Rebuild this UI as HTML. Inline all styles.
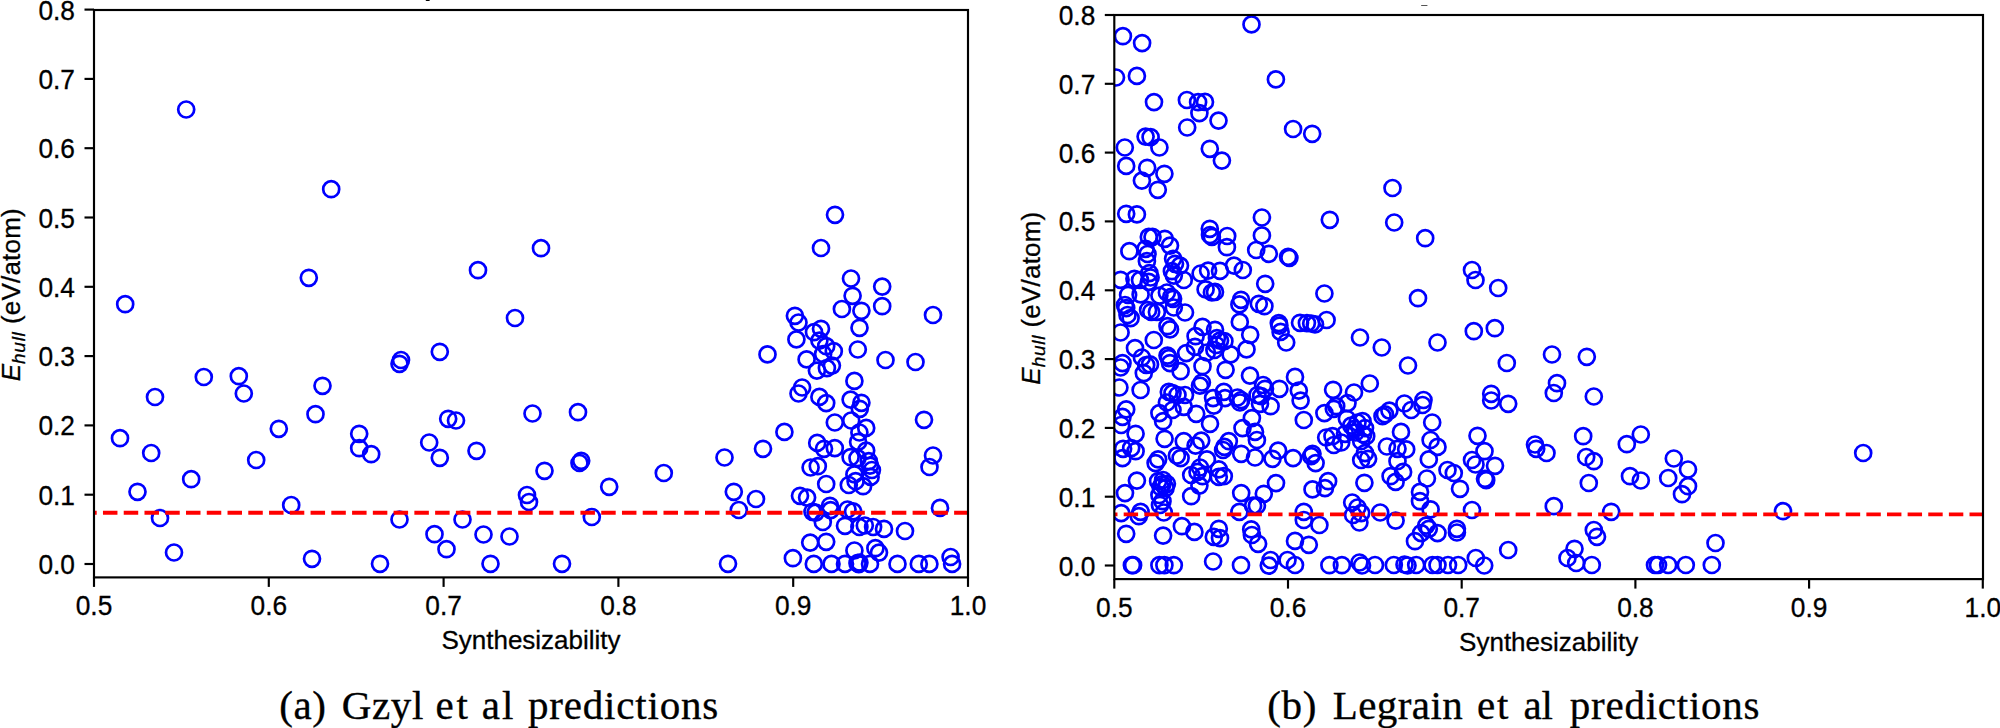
<!DOCTYPE html>
<html><head><meta charset="utf-8"><title>Ehull vs Synthesizability</title>
<style>
html,body{margin:0;padding:0;background:#fff;}
body{width:2000px;height:728px;overflow:hidden;position:relative;}
svg{position:absolute;left:0;top:0;}
.tk{font-family:"Liberation Sans",sans-serif;font-size:26.3px;fill:#000;stroke:#000;stroke-width:0.3px;}
.lb{font-family:"Liberation Sans",sans-serif;font-size:26px;fill:#000;stroke:#000;stroke-width:0.3px;}
.cap{font-family:"Liberation Serif",serif;font-size:41px;fill:#000;stroke:#000;stroke-width:0.35px;}
</style></head><body>
<svg width="2000" height="728" viewBox="0 0 2000 728">
<rect width="2000" height="728" fill="#fff"/>
<rect x="425.6" y="-1" width="4.3" height="1.9" rx="1" fill="#000"/>
<rect x="1421" y="5.1" width="6.6" height="0.8" rx="0.4" fill="#555"/>
<clipPath id="cl"><rect x="94.0" y="10.0" width="874.0" height="567.4"/></clipPath>
<g clip-path="url(#cl)" fill="none" stroke="#0000ff" stroke-width="2.7">
<circle cx="186.2" cy="109.5" r="8"/>
<circle cx="331.2" cy="189.2" r="8"/>
<circle cx="308.8" cy="277.8" r="8"/>
<circle cx="125.2" cy="304.2" r="8"/>
<circle cx="478.0" cy="270.2" r="8"/>
<circle cx="541.0" cy="248.2" r="8"/>
<circle cx="515.0" cy="318.0" r="8"/>
<circle cx="933.0" cy="315.0" r="8"/>
<circle cx="439.8" cy="351.8" r="8"/>
<circle cx="401.0" cy="360.0" r="8"/>
<circle cx="399.5" cy="363.8" r="8"/>
<circle cx="203.8" cy="377.0" r="8"/>
<circle cx="238.8" cy="376.2" r="8"/>
<circle cx="243.8" cy="393.5" r="8"/>
<circle cx="322.5" cy="385.8" r="8"/>
<circle cx="155.0" cy="397.0" r="8"/>
<circle cx="315.5" cy="414.2" r="8"/>
<circle cx="278.8" cy="428.8" r="8"/>
<circle cx="120.0" cy="438.2" r="8"/>
<circle cx="151.2" cy="453.0" r="8"/>
<circle cx="256.2" cy="460.0" r="8"/>
<circle cx="359.2" cy="433.8" r="8"/>
<circle cx="359.2" cy="448.2" r="8"/>
<circle cx="371.2" cy="454.2" r="8"/>
<circle cx="429.2" cy="442.5" r="8"/>
<circle cx="439.8" cy="457.8" r="8"/>
<circle cx="448.2" cy="418.8" r="8"/>
<circle cx="456.0" cy="420.5" r="8"/>
<circle cx="476.5" cy="450.8" r="8"/>
<circle cx="532.5" cy="413.5" r="8"/>
<circle cx="578.0" cy="412.2" r="8"/>
<circle cx="544.5" cy="470.8" r="8"/>
<circle cx="579.5" cy="463.0" r="8"/>
<circle cx="581.2" cy="460.8" r="8"/>
<circle cx="191.2" cy="479.2" r="8"/>
<circle cx="137.5" cy="491.8" r="8"/>
<circle cx="291.2" cy="505.0" r="8"/>
<circle cx="527.0" cy="495.0" r="8"/>
<circle cx="529.0" cy="502.0" r="8"/>
<circle cx="609.2" cy="486.8" r="8"/>
<circle cx="663.8" cy="473.0" r="8"/>
<circle cx="724.5" cy="457.5" r="8"/>
<circle cx="733.8" cy="491.8" r="8"/>
<circle cx="756.0" cy="499.0" r="8"/>
<circle cx="738.8" cy="510.0" r="8"/>
<circle cx="885.5" cy="360.0" r="8"/>
<circle cx="915.5" cy="362.0" r="8"/>
<circle cx="924.0" cy="419.8" r="8"/>
<circle cx="933.0" cy="455.5" r="8"/>
<circle cx="929.5" cy="467.0" r="8"/>
<circle cx="160.0" cy="518.0" r="8"/>
<circle cx="174.0" cy="552.5" r="8"/>
<circle cx="312.0" cy="558.8" r="8"/>
<circle cx="380.0" cy="563.8" r="8"/>
<circle cx="399.5" cy="519.5" r="8"/>
<circle cx="434.5" cy="534.2" r="8"/>
<circle cx="446.5" cy="549.2" r="8"/>
<circle cx="462.5" cy="519.5" r="8"/>
<circle cx="483.5" cy="534.5" r="8"/>
<circle cx="490.5" cy="563.8" r="8"/>
<circle cx="509.5" cy="536.5" r="8"/>
<circle cx="562.0" cy="563.8" r="8"/>
<circle cx="591.8" cy="517.0" r="8"/>
<circle cx="728.0" cy="563.8" r="8"/>
<circle cx="835.0" cy="214.8" r="8"/>
<circle cx="821.0" cy="248.0" r="8"/>
<circle cx="851.0" cy="278.5" r="8"/>
<circle cx="882.2" cy="286.6" r="8"/>
<circle cx="852.6" cy="295.8" r="8"/>
<circle cx="882.2" cy="306.2" r="8"/>
<circle cx="841.9" cy="309.0" r="8"/>
<circle cx="861.4" cy="310.8" r="8"/>
<circle cx="794.9" cy="315.8" r="8"/>
<circle cx="798.5" cy="322.5" r="8"/>
<circle cx="859.5" cy="327.8" r="8"/>
<circle cx="821.0" cy="328.8" r="8"/>
<circle cx="814.0" cy="332.2" r="8"/>
<circle cx="796.4" cy="339.4" r="8"/>
<circle cx="819.4" cy="340.6" r="8"/>
<circle cx="826.2" cy="346.2" r="8"/>
<circle cx="857.8" cy="349.5" r="8"/>
<circle cx="833.8" cy="351.2" r="8"/>
<circle cx="823.1" cy="354.0" r="8"/>
<circle cx="767.5" cy="354.4" r="8"/>
<circle cx="806.6" cy="359.4" r="8"/>
<circle cx="831.9" cy="365.6" r="8"/>
<circle cx="826.9" cy="368.1" r="8"/>
<circle cx="816.9" cy="370.6" r="8"/>
<circle cx="854.4" cy="380.9" r="8"/>
<circle cx="802.1" cy="387.5" r="8"/>
<circle cx="798.5" cy="393.5" r="8"/>
<circle cx="819.4" cy="396.9" r="8"/>
<circle cx="826.2" cy="403.1" r="8"/>
<circle cx="850.6" cy="399.6" r="8"/>
<circle cx="861.4" cy="402.8" r="8"/>
<circle cx="859.8" cy="408.8" r="8"/>
<circle cx="851.2" cy="420.5" r="8"/>
<circle cx="834.8" cy="422.5" r="8"/>
<circle cx="866.2" cy="427.9" r="8"/>
<circle cx="784.4" cy="431.9" r="8"/>
<circle cx="859.4" cy="432.5" r="8"/>
<circle cx="858.1" cy="441.9" r="8"/>
<circle cx="817.2" cy="442.9" r="8"/>
<circle cx="824.0" cy="448.8" r="8"/>
<circle cx="834.8" cy="448.1" r="8"/>
<circle cx="866.2" cy="450.6" r="8"/>
<circle cx="763.0" cy="448.8" r="8"/>
<circle cx="850.6" cy="457.2" r="8"/>
<circle cx="857.5" cy="458.1" r="8"/>
<circle cx="868.8" cy="461.2" r="8"/>
<circle cx="870.0" cy="465.6" r="8"/>
<circle cx="871.9" cy="470.0" r="8"/>
<circle cx="810.6" cy="467.5" r="8"/>
<circle cx="817.8" cy="466.2" r="8"/>
<circle cx="854.4" cy="474.4" r="8"/>
<circle cx="870.6" cy="476.9" r="8"/>
<circle cx="855.6" cy="481.2" r="8"/>
<circle cx="826.2" cy="484.0" r="8"/>
<circle cx="848.8" cy="485.0" r="8"/>
<circle cx="863.1" cy="486.2" r="8"/>
<circle cx="800.0" cy="495.8" r="8"/>
<circle cx="807.1" cy="497.6" r="8"/>
<circle cx="830.0" cy="505.8" r="8"/>
<circle cx="830.6" cy="510.1" r="8"/>
<circle cx="940.0" cy="507.9" r="8"/>
<circle cx="847.5" cy="509.5" r="8"/>
<circle cx="853.1" cy="511.4" r="8"/>
<circle cx="812.5" cy="511.8" r="8"/>
<circle cx="815.6" cy="512.6" r="8"/>
<circle cx="822.8" cy="522.0" r="8"/>
<circle cx="845.0" cy="525.8" r="8"/>
<circle cx="859.4" cy="527.0" r="8"/>
<circle cx="864.8" cy="525.5" r="8"/>
<circle cx="873.1" cy="527.0" r="8"/>
<circle cx="884.0" cy="528.9" r="8"/>
<circle cx="905.0" cy="531.0" r="8"/>
<circle cx="810.2" cy="542.6" r="8"/>
<circle cx="826.2" cy="541.8" r="8"/>
<circle cx="854.4" cy="550.5" r="8"/>
<circle cx="875.4" cy="548.2" r="8"/>
<circle cx="879.0" cy="552.6" r="8"/>
<circle cx="792.9" cy="558.2" r="8"/>
<circle cx="950.6" cy="557.0" r="8"/>
<circle cx="952.1" cy="563.9" r="8"/>
<circle cx="813.8" cy="563.9" r="8"/>
<circle cx="831.5" cy="563.9" r="8"/>
<circle cx="845.0" cy="563.9" r="8"/>
<circle cx="857.5" cy="563.2" r="8"/>
<circle cx="859.4" cy="562.6" r="8"/>
<circle cx="858.8" cy="564.1" r="8"/>
<circle cx="870.0" cy="563.9" r="8"/>
<circle cx="897.5" cy="563.9" r="8"/>
<circle cx="918.8" cy="563.9" r="8"/>
<circle cx="929.4" cy="563.9" r="8"/>
</g>
<line x1="94.0" x2="968.0" y1="512.8" y2="512.8" stroke="#ff0000" stroke-width="3.92" stroke-dasharray="14.5 6.26" stroke-dashoffset="11.8" clip-path="url(#cl)"/>
<rect x="94.0" y="10.0" width="874.0" height="567.4" fill="none" stroke="#000" stroke-width="2.15"/>
<line x1="94.0" x2="94.0" y1="577.4" y2="586.9" stroke="#000" stroke-width="2.15"/>
<text transform="translate(94.0,615.3) scale(1,1.06)" text-anchor="middle" class="tk">0.5</text>
<line x1="268.8" x2="268.8" y1="577.4" y2="586.9" stroke="#000" stroke-width="2.15"/>
<text transform="translate(268.8,615.3) scale(1,1.06)" text-anchor="middle" class="tk">0.6</text>
<line x1="443.6" x2="443.6" y1="577.4" y2="586.9" stroke="#000" stroke-width="2.15"/>
<text transform="translate(443.6,615.3) scale(1,1.06)" text-anchor="middle" class="tk">0.7</text>
<line x1="618.4" x2="618.4" y1="577.4" y2="586.9" stroke="#000" stroke-width="2.15"/>
<text transform="translate(618.4,615.3) scale(1,1.06)" text-anchor="middle" class="tk">0.8</text>
<line x1="793.2" x2="793.2" y1="577.4" y2="586.9" stroke="#000" stroke-width="2.15"/>
<text transform="translate(793.2,615.3) scale(1,1.06)" text-anchor="middle" class="tk">0.9</text>
<line x1="968.0" x2="968.0" y1="577.4" y2="586.9" stroke="#000" stroke-width="2.15"/>
<text transform="translate(968.0,615.3) scale(1,1.06)" text-anchor="middle" class="tk">1.0</text>
<line x1="84.5" x2="94.0" y1="564.0" y2="564.0" stroke="#000" stroke-width="2.15"/>
<text transform="translate(75.0,574.0) scale(1,1.06)" text-anchor="end" class="tk">0.0</text>
<line x1="84.5" x2="94.0" y1="494.7" y2="494.7" stroke="#000" stroke-width="2.15"/>
<text transform="translate(75.0,504.7) scale(1,1.06)" text-anchor="end" class="tk">0.1</text>
<line x1="84.5" x2="94.0" y1="425.4" y2="425.4" stroke="#000" stroke-width="2.15"/>
<text transform="translate(75.0,435.4) scale(1,1.06)" text-anchor="end" class="tk">0.2</text>
<line x1="84.5" x2="94.0" y1="356.1" y2="356.1" stroke="#000" stroke-width="2.15"/>
<text transform="translate(75.0,366.1) scale(1,1.06)" text-anchor="end" class="tk">0.3</text>
<line x1="84.5" x2="94.0" y1="286.8" y2="286.8" stroke="#000" stroke-width="2.15"/>
<text transform="translate(75.0,296.8) scale(1,1.06)" text-anchor="end" class="tk">0.4</text>
<line x1="84.5" x2="94.0" y1="217.5" y2="217.5" stroke="#000" stroke-width="2.15"/>
<text transform="translate(75.0,227.5) scale(1,1.06)" text-anchor="end" class="tk">0.5</text>
<line x1="84.5" x2="94.0" y1="148.2" y2="148.2" stroke="#000" stroke-width="2.15"/>
<text transform="translate(75.0,158.2) scale(1,1.06)" text-anchor="end" class="tk">0.6</text>
<line x1="84.5" x2="94.0" y1="78.9" y2="78.9" stroke="#000" stroke-width="2.15"/>
<text transform="translate(75.0,88.9) scale(1,1.06)" text-anchor="end" class="tk">0.7</text>
<line x1="84.5" x2="94.0" y1="9.6" y2="9.6" stroke="#000" stroke-width="2.15"/>
<text transform="translate(75.0,19.6) scale(1,1.06)" text-anchor="end" class="tk">0.8</text>
<text x="531.0" y="649.4" text-anchor="middle" class="lb">Synthesizability</text>
<text transform="translate(20,294.7) rotate(-90)" text-anchor="middle" class="lb"><tspan font-style="italic">E</tspan><tspan font-style="italic" font-size="19" letter-spacing="0.7" dy="4.5">hull</tspan><tspan dy="-4.5" letter-spacing="0.2"> (eV/atom)</tspan></text>
<clipPath id="cr"><rect x="1114.3" y="15.0" width="868.7" height="564.1"/></clipPath>
<g clip-path="url(#cr)" fill="none" stroke="#0000ff" stroke-width="2.7">
<circle cx="1251.5" cy="24.4" r="8"/>
<circle cx="1122.9" cy="36.2" r="8"/>
<circle cx="1142.1" cy="43.1" r="8"/>
<circle cx="1116.0" cy="77.5" r="8"/>
<circle cx="1136.9" cy="75.9" r="8"/>
<circle cx="1275.9" cy="79.4" r="8"/>
<circle cx="1154.0" cy="102.1" r="8"/>
<circle cx="1186.9" cy="100.0" r="8"/>
<circle cx="1198.1" cy="102.2" r="8"/>
<circle cx="1205.0" cy="101.9" r="8"/>
<circle cx="1199.4" cy="113.1" r="8"/>
<circle cx="1218.5" cy="120.6" r="8"/>
<circle cx="1187.2" cy="127.5" r="8"/>
<circle cx="1293.1" cy="129.0" r="8"/>
<circle cx="1312.2" cy="133.8" r="8"/>
<circle cx="1145.6" cy="136.6" r="8"/>
<circle cx="1150.6" cy="137.2" r="8"/>
<circle cx="1124.8" cy="147.5" r="8"/>
<circle cx="1159.4" cy="147.5" r="8"/>
<circle cx="1209.8" cy="148.8" r="8"/>
<circle cx="1221.9" cy="160.6" r="8"/>
<circle cx="1126.2" cy="165.9" r="8"/>
<circle cx="1147.2" cy="167.8" r="8"/>
<circle cx="1164.4" cy="173.8" r="8"/>
<circle cx="1141.9" cy="180.6" r="8"/>
<circle cx="1157.8" cy="189.8" r="8"/>
<circle cx="1126.2" cy="213.8" r="8"/>
<circle cx="1136.9" cy="214.4" r="8"/>
<circle cx="1261.9" cy="217.5" r="8"/>
<circle cx="1329.8" cy="219.8" r="8"/>
<circle cx="1209.8" cy="228.8" r="8"/>
<circle cx="1210.0" cy="235.0" r="8"/>
<circle cx="1211.9" cy="236.9" r="8"/>
<circle cx="1227.2" cy="236.0" r="8"/>
<circle cx="1261.9" cy="235.4" r="8"/>
<circle cx="1148.8" cy="236.9" r="8"/>
<circle cx="1152.5" cy="236.9" r="8"/>
<circle cx="1164.8" cy="238.8" r="8"/>
<circle cx="1170.0" cy="245.6" r="8"/>
<circle cx="1226.9" cy="247.2" r="8"/>
<circle cx="1256.2" cy="250.0" r="8"/>
<circle cx="1268.8" cy="253.8" r="8"/>
<circle cx="1129.4" cy="251.2" r="8"/>
<circle cx="1145.6" cy="248.8" r="8"/>
<circle cx="1147.5" cy="254.0" r="8"/>
<circle cx="1288.1" cy="256.9" r="8"/>
<circle cx="1289.4" cy="257.8" r="8"/>
<circle cx="1234.0" cy="265.6" r="8"/>
<circle cx="1242.8" cy="270.0" r="8"/>
<circle cx="1220.0" cy="270.9" r="8"/>
<circle cx="1208.1" cy="270.6" r="8"/>
<circle cx="1200.6" cy="273.5" r="8"/>
<circle cx="1265.2" cy="283.8" r="8"/>
<circle cx="1205.6" cy="289.4" r="8"/>
<circle cx="1211.9" cy="292.5" r="8"/>
<circle cx="1215.0" cy="291.9" r="8"/>
<circle cx="1324.4" cy="293.5" r="8"/>
<circle cx="1241.0" cy="299.8" r="8"/>
<circle cx="1239.4" cy="304.4" r="8"/>
<circle cx="1258.8" cy="303.8" r="8"/>
<circle cx="1264.4" cy="306.2" r="8"/>
<circle cx="1185.0" cy="312.5" r="8"/>
<circle cx="1146.9" cy="261.2" r="8"/>
<circle cx="1173.1" cy="258.8" r="8"/>
<circle cx="1175.0" cy="263.8" r="8"/>
<circle cx="1180.0" cy="265.6" r="8"/>
<circle cx="1171.9" cy="271.2" r="8"/>
<circle cx="1173.8" cy="275.6" r="8"/>
<circle cx="1183.8" cy="280.0" r="8"/>
<circle cx="1149.4" cy="273.1" r="8"/>
<circle cx="1150.6" cy="277.5" r="8"/>
<circle cx="1148.8" cy="281.9" r="8"/>
<circle cx="1120.6" cy="279.8" r="8"/>
<circle cx="1134.4" cy="278.8" r="8"/>
<circle cx="1140.0" cy="280.0" r="8"/>
<circle cx="1128.1" cy="295.0" r="8"/>
<circle cx="1140.6" cy="294.4" r="8"/>
<circle cx="1159.4" cy="295.6" r="8"/>
<circle cx="1166.9" cy="292.5" r="8"/>
<circle cx="1171.2" cy="296.9" r="8"/>
<circle cx="1173.1" cy="298.8" r="8"/>
<circle cx="1125.0" cy="305.0" r="8"/>
<circle cx="1126.2" cy="308.1" r="8"/>
<circle cx="1148.1" cy="310.0" r="8"/>
<circle cx="1151.2" cy="311.9" r="8"/>
<circle cx="1156.9" cy="311.9" r="8"/>
<circle cx="1173.8" cy="307.5" r="8"/>
<circle cx="1127.5" cy="315.0" r="8"/>
<circle cx="1130.6" cy="318.1" r="8"/>
<circle cx="1239.8" cy="321.9" r="8"/>
<circle cx="1326.6" cy="320.0" r="8"/>
<circle cx="1278.8" cy="323.1" r="8"/>
<circle cx="1279.4" cy="325.6" r="8"/>
<circle cx="1280.6" cy="331.9" r="8"/>
<circle cx="1286.2" cy="342.5" r="8"/>
<circle cx="1300.0" cy="322.8" r="8"/>
<circle cx="1306.9" cy="323.1" r="8"/>
<circle cx="1311.2" cy="323.5" r="8"/>
<circle cx="1315.0" cy="324.4" r="8"/>
<circle cx="1360.0" cy="337.5" r="8"/>
<circle cx="1250.2" cy="334.8" r="8"/>
<circle cx="1246.5" cy="349.4" r="8"/>
<circle cx="1202.5" cy="326.9" r="8"/>
<circle cx="1215.0" cy="329.8" r="8"/>
<circle cx="1167.5" cy="326.2" r="8"/>
<circle cx="1170.0" cy="329.4" r="8"/>
<circle cx="1120.6" cy="332.5" r="8"/>
<circle cx="1153.8" cy="340.0" r="8"/>
<circle cx="1195.6" cy="336.2" r="8"/>
<circle cx="1216.9" cy="338.1" r="8"/>
<circle cx="1220.0" cy="340.6" r="8"/>
<circle cx="1224.4" cy="341.2" r="8"/>
<circle cx="1216.2" cy="345.0" r="8"/>
<circle cx="1195.0" cy="346.9" r="8"/>
<circle cx="1214.4" cy="350.0" r="8"/>
<circle cx="1135.0" cy="348.1" r="8"/>
<circle cx="1230.6" cy="354.4" r="8"/>
<circle cx="1186.2" cy="353.1" r="8"/>
<circle cx="1167.5" cy="355.6" r="8"/>
<circle cx="1168.8" cy="358.1" r="8"/>
<circle cx="1141.9" cy="357.5" r="8"/>
<circle cx="1206.9" cy="352.5" r="8"/>
<circle cx="1122.5" cy="363.1" r="8"/>
<circle cx="1120.6" cy="367.5" r="8"/>
<circle cx="1146.2" cy="365.0" r="8"/>
<circle cx="1150.0" cy="364.4" r="8"/>
<circle cx="1170.0" cy="363.1" r="8"/>
<circle cx="1202.5" cy="366.2" r="8"/>
<circle cx="1225.6" cy="369.8" r="8"/>
<circle cx="1180.6" cy="371.2" r="8"/>
<circle cx="1143.8" cy="373.1" r="8"/>
<circle cx="1250.0" cy="375.6" r="8"/>
<circle cx="1295.0" cy="376.9" r="8"/>
<circle cx="1201.9" cy="382.5" r="8"/>
<circle cx="1200.0" cy="385.6" r="8"/>
<circle cx="1119.4" cy="387.5" r="8"/>
<circle cx="1140.6" cy="390.0" r="8"/>
<circle cx="1263.1" cy="385.0" r="8"/>
<circle cx="1265.0" cy="388.8" r="8"/>
<circle cx="1279.4" cy="388.8" r="8"/>
<circle cx="1298.8" cy="390.6" r="8"/>
<circle cx="1223.8" cy="391.9" r="8"/>
<circle cx="1168.8" cy="391.9" r="8"/>
<circle cx="1172.5" cy="393.1" r="8"/>
<circle cx="1177.5" cy="395.0" r="8"/>
<circle cx="1185.0" cy="395.0" r="8"/>
<circle cx="1213.1" cy="398.1" r="8"/>
<circle cx="1237.5" cy="397.5" r="8"/>
<circle cx="1241.2" cy="400.0" r="8"/>
<circle cx="1257.5" cy="395.0" r="8"/>
<circle cx="1261.2" cy="396.2" r="8"/>
<circle cx="1300.6" cy="400.6" r="8"/>
<circle cx="1166.9" cy="402.5" r="8"/>
<circle cx="1213.8" cy="405.6" r="8"/>
<circle cx="1225.0" cy="398.1" r="8"/>
<circle cx="1240.0" cy="402.5" r="8"/>
<circle cx="1270.6" cy="406.2" r="8"/>
<circle cx="1260.0" cy="403.8" r="8"/>
<circle cx="1336.2" cy="406.2" r="8"/>
<circle cx="1333.8" cy="408.8" r="8"/>
<circle cx="1183.8" cy="406.9" r="8"/>
<circle cx="1172.5" cy="410.0" r="8"/>
<circle cx="1126.2" cy="409.4" r="8"/>
<circle cx="1122.5" cy="416.9" r="8"/>
<circle cx="1159.4" cy="413.1" r="8"/>
<circle cx="1196.2" cy="413.8" r="8"/>
<circle cx="1324.4" cy="413.1" r="8"/>
<circle cx="1251.9" cy="418.1" r="8"/>
<circle cx="1303.8" cy="420.0" r="8"/>
<circle cx="1163.1" cy="421.2" r="8"/>
<circle cx="1210.0" cy="423.8" r="8"/>
<circle cx="1121.2" cy="425.0" r="8"/>
<circle cx="1242.5" cy="428.1" r="8"/>
<circle cx="1255.0" cy="431.9" r="8"/>
<circle cx="1135.6" cy="433.8" r="8"/>
<circle cx="1326.2" cy="437.5" r="8"/>
<circle cx="1332.5" cy="436.2" r="8"/>
<circle cx="1164.6" cy="438.8" r="8"/>
<circle cx="1201.2" cy="440.6" r="8"/>
<circle cx="1183.8" cy="441.2" r="8"/>
<circle cx="1256.9" cy="440.0" r="8"/>
<circle cx="1228.8" cy="441.2" r="8"/>
<circle cx="1195.6" cy="445.6" r="8"/>
<circle cx="1224.4" cy="446.9" r="8"/>
<circle cx="1223.1" cy="450.0" r="8"/>
<circle cx="1333.8" cy="445.0" r="8"/>
<circle cx="1341.2" cy="442.5" r="8"/>
<circle cx="1123.1" cy="448.8" r="8"/>
<circle cx="1131.2" cy="448.1" r="8"/>
<circle cx="1135.6" cy="451.2" r="8"/>
<circle cx="1278.1" cy="450.6" r="8"/>
<circle cx="1241.2" cy="453.8" r="8"/>
<circle cx="1312.5" cy="453.8" r="8"/>
<circle cx="1311.2" cy="456.2" r="8"/>
<circle cx="1255.0" cy="457.5" r="8"/>
<circle cx="1272.5" cy="458.8" r="8"/>
<circle cx="1293.1" cy="458.1" r="8"/>
<circle cx="1122.5" cy="458.1" r="8"/>
<circle cx="1176.9" cy="455.6" r="8"/>
<circle cx="1180.6" cy="458.1" r="8"/>
<circle cx="1158.1" cy="459.4" r="8"/>
<circle cx="1155.6" cy="463.1" r="8"/>
<circle cx="1206.9" cy="459.4" r="8"/>
<circle cx="1315.6" cy="463.1" r="8"/>
<circle cx="1200.0" cy="467.5" r="8"/>
<circle cx="1197.5" cy="471.9" r="8"/>
<circle cx="1191.2" cy="475.0" r="8"/>
<circle cx="1218.8" cy="469.4" r="8"/>
<circle cx="1136.9" cy="480.6" r="8"/>
<circle cx="1125.0" cy="493.1" r="8"/>
<circle cx="1158.1" cy="481.2" r="8"/>
<circle cx="1163.1" cy="480.0" r="8"/>
<circle cx="1166.9" cy="483.8" r="8"/>
<circle cx="1165.6" cy="488.1" r="8"/>
<circle cx="1160.6" cy="487.2" r="8"/>
<circle cx="1162.5" cy="484.0" r="8"/>
<circle cx="1159.4" cy="495.0" r="8"/>
<circle cx="1162.5" cy="501.2" r="8"/>
<circle cx="1160.0" cy="505.0" r="8"/>
<circle cx="1163.8" cy="512.5" r="8"/>
<circle cx="1191.2" cy="496.2" r="8"/>
<circle cx="1199.4" cy="485.6" r="8"/>
<circle cx="1202.5" cy="476.2" r="8"/>
<circle cx="1218.8" cy="476.9" r="8"/>
<circle cx="1223.8" cy="476.2" r="8"/>
<circle cx="1241.2" cy="493.1" r="8"/>
<circle cx="1263.8" cy="493.8" r="8"/>
<circle cx="1276.0" cy="483.1" r="8"/>
<circle cx="1312.5" cy="489.4" r="8"/>
<circle cx="1325.0" cy="488.1" r="8"/>
<circle cx="1253.1" cy="505.6" r="8"/>
<circle cx="1256.9" cy="505.6" r="8"/>
<circle cx="1239.4" cy="511.9" r="8"/>
<circle cx="1121.2" cy="513.1" r="8"/>
<circle cx="1140.6" cy="511.9" r="8"/>
<circle cx="1138.8" cy="516.2" r="8"/>
<circle cx="1303.8" cy="511.9" r="8"/>
<circle cx="1303.8" cy="520.0" r="8"/>
<circle cx="1319.4" cy="525.0" r="8"/>
<circle cx="1181.9" cy="526.2" r="8"/>
<circle cx="1194.4" cy="531.9" r="8"/>
<circle cx="1218.8" cy="528.8" r="8"/>
<circle cx="1213.8" cy="536.9" r="8"/>
<circle cx="1220.0" cy="538.1" r="8"/>
<circle cx="1251.2" cy="529.4" r="8"/>
<circle cx="1251.9" cy="535.0" r="8"/>
<circle cx="1258.1" cy="543.8" r="8"/>
<circle cx="1126.2" cy="533.8" r="8"/>
<circle cx="1163.1" cy="535.6" r="8"/>
<circle cx="1295.0" cy="540.9" r="8"/>
<circle cx="1308.8" cy="544.8" r="8"/>
<circle cx="1131.9" cy="565.2" r="8"/>
<circle cx="1133.1" cy="565.2" r="8"/>
<circle cx="1159.4" cy="565.2" r="8"/>
<circle cx="1164.4" cy="565.2" r="8"/>
<circle cx="1173.8" cy="565.2" r="8"/>
<circle cx="1213.1" cy="561.5" r="8"/>
<circle cx="1241.0" cy="565.2" r="8"/>
<circle cx="1270.6" cy="560.0" r="8"/>
<circle cx="1268.8" cy="565.6" r="8"/>
<circle cx="1287.5" cy="560.0" r="8"/>
<circle cx="1295.0" cy="565.0" r="8"/>
<circle cx="1329.4" cy="565.2" r="8"/>
<circle cx="1341.9" cy="565.2" r="8"/>
<circle cx="1392.5" cy="188.0" r="8"/>
<circle cx="1394.2" cy="222.5" r="8"/>
<circle cx="1425.2" cy="238.2" r="8"/>
<circle cx="1472.0" cy="270.0" r="8"/>
<circle cx="1475.5" cy="280.0" r="8"/>
<circle cx="1498.2" cy="288.0" r="8"/>
<circle cx="1418.0" cy="298.2" r="8"/>
<circle cx="1381.8" cy="347.5" r="8"/>
<circle cx="1437.5" cy="342.5" r="8"/>
<circle cx="1473.8" cy="331.2" r="8"/>
<circle cx="1494.8" cy="328.2" r="8"/>
<circle cx="1506.8" cy="363.0" r="8"/>
<circle cx="1552.0" cy="354.5" r="8"/>
<circle cx="1586.8" cy="356.8" r="8"/>
<circle cx="1557.0" cy="383.2" r="8"/>
<circle cx="1553.8" cy="393.0" r="8"/>
<circle cx="1593.8" cy="396.5" r="8"/>
<circle cx="1491.2" cy="393.8" r="8"/>
<circle cx="1491.2" cy="400.5" r="8"/>
<circle cx="1508.2" cy="403.8" r="8"/>
<circle cx="1477.5" cy="435.8" r="8"/>
<circle cx="1484.5" cy="451.2" r="8"/>
<circle cx="1472.0" cy="460.0" r="8"/>
<circle cx="1475.5" cy="464.5" r="8"/>
<circle cx="1495.0" cy="465.8" r="8"/>
<circle cx="1485.0" cy="478.8" r="8"/>
<circle cx="1486.2" cy="480.2" r="8"/>
<circle cx="1535.0" cy="444.5" r="8"/>
<circle cx="1536.2" cy="448.8" r="8"/>
<circle cx="1546.5" cy="453.0" r="8"/>
<circle cx="1583.2" cy="436.2" r="8"/>
<circle cx="1586.2" cy="457.0" r="8"/>
<circle cx="1593.8" cy="461.2" r="8"/>
<circle cx="1588.8" cy="483.0" r="8"/>
<circle cx="1626.8" cy="444.2" r="8"/>
<circle cx="1640.8" cy="434.5" r="8"/>
<circle cx="1630.0" cy="476.2" r="8"/>
<circle cx="1640.8" cy="480.5" r="8"/>
<circle cx="1673.8" cy="458.5" r="8"/>
<circle cx="1688.0" cy="469.5" r="8"/>
<circle cx="1668.2" cy="478.0" r="8"/>
<circle cx="1688.0" cy="486.2" r="8"/>
<circle cx="1682.0" cy="494.2" r="8"/>
<circle cx="1553.8" cy="506.2" r="8"/>
<circle cx="1611.2" cy="511.8" r="8"/>
<circle cx="1783.0" cy="511.2" r="8"/>
<circle cx="1472.0" cy="510.0" r="8"/>
<circle cx="1460.0" cy="488.8" r="8"/>
<circle cx="1447.5" cy="470.0" r="8"/>
<circle cx="1453.8" cy="473.0" r="8"/>
<circle cx="1408.0" cy="365.5" r="8"/>
<circle cx="1333.1" cy="389.8" r="8"/>
<circle cx="1354.0" cy="392.5" r="8"/>
<circle cx="1369.8" cy="383.5" r="8"/>
<circle cx="1347.5" cy="403.1" r="8"/>
<circle cx="1389.4" cy="410.6" r="8"/>
<circle cx="1385.0" cy="414.4" r="8"/>
<circle cx="1382.5" cy="416.2" r="8"/>
<circle cx="1404.4" cy="403.5" r="8"/>
<circle cx="1411.2" cy="410.0" r="8"/>
<circle cx="1423.5" cy="400.0" r="8"/>
<circle cx="1422.5" cy="405.0" r="8"/>
<circle cx="1432.2" cy="422.5" r="8"/>
<circle cx="1346.9" cy="418.8" r="8"/>
<circle cx="1351.2" cy="425.6" r="8"/>
<circle cx="1354.4" cy="428.8" r="8"/>
<circle cx="1357.5" cy="422.5" r="8"/>
<circle cx="1362.5" cy="421.2" r="8"/>
<circle cx="1365.0" cy="428.1" r="8"/>
<circle cx="1355.6" cy="432.5" r="8"/>
<circle cx="1363.1" cy="434.4" r="8"/>
<circle cx="1366.2" cy="436.2" r="8"/>
<circle cx="1361.2" cy="441.2" r="8"/>
<circle cx="1345.0" cy="433.8" r="8"/>
<circle cx="1401.0" cy="431.9" r="8"/>
<circle cx="1386.9" cy="446.5" r="8"/>
<circle cx="1397.5" cy="448.8" r="8"/>
<circle cx="1406.2" cy="449.4" r="8"/>
<circle cx="1430.6" cy="440.0" r="8"/>
<circle cx="1437.5" cy="446.9" r="8"/>
<circle cx="1428.8" cy="459.4" r="8"/>
<circle cx="1365.0" cy="453.1" r="8"/>
<circle cx="1361.2" cy="460.0" r="8"/>
<circle cx="1368.1" cy="458.8" r="8"/>
<circle cx="1397.5" cy="461.2" r="8"/>
<circle cx="1403.1" cy="471.9" r="8"/>
<circle cx="1390.6" cy="476.2" r="8"/>
<circle cx="1395.6" cy="481.9" r="8"/>
<circle cx="1364.4" cy="482.8" r="8"/>
<circle cx="1328.1" cy="481.2" r="8"/>
<circle cx="1426.9" cy="478.5" r="8"/>
<circle cx="1420.0" cy="491.9" r="8"/>
<circle cx="1420.0" cy="501.2" r="8"/>
<circle cx="1430.6" cy="509.4" r="8"/>
<circle cx="1352.2" cy="502.5" r="8"/>
<circle cx="1357.5" cy="507.5" r="8"/>
<circle cx="1361.2" cy="513.1" r="8"/>
<circle cx="1353.1" cy="515.0" r="8"/>
<circle cx="1359.4" cy="522.5" r="8"/>
<circle cx="1380.2" cy="512.5" r="8"/>
<circle cx="1395.6" cy="520.6" r="8"/>
<circle cx="1426.2" cy="525.6" r="8"/>
<circle cx="1428.8" cy="528.8" r="8"/>
<circle cx="1421.2" cy="533.1" r="8"/>
<circle cx="1437.5" cy="533.1" r="8"/>
<circle cx="1456.9" cy="528.8" r="8"/>
<circle cx="1456.9" cy="532.5" r="8"/>
<circle cx="1415.0" cy="541.2" r="8"/>
<circle cx="1359.5" cy="562.5" r="8"/>
<circle cx="1362.0" cy="565.5" r="8"/>
<circle cx="1375.0" cy="565.0" r="8"/>
<circle cx="1393.8" cy="565.0" r="8"/>
<circle cx="1404.5" cy="564.5" r="8"/>
<circle cx="1407.5" cy="565.5" r="8"/>
<circle cx="1416.2" cy="565.0" r="8"/>
<circle cx="1432.5" cy="565.0" r="8"/>
<circle cx="1437.5" cy="565.0" r="8"/>
<circle cx="1448.0" cy="565.0" r="8"/>
<circle cx="1458.2" cy="565.0" r="8"/>
<circle cx="1475.8" cy="558.0" r="8"/>
<circle cx="1484.2" cy="565.5" r="8"/>
<circle cx="1508.2" cy="550.0" r="8"/>
<circle cx="1567.5" cy="558.0" r="8"/>
<circle cx="1574.5" cy="548.8" r="8"/>
<circle cx="1576.2" cy="563.0" r="8"/>
<circle cx="1591.8" cy="565.0" r="8"/>
<circle cx="1655.0" cy="565.0" r="8"/>
<circle cx="1658.0" cy="565.0" r="8"/>
<circle cx="1668.2" cy="565.0" r="8"/>
<circle cx="1685.8" cy="565.0" r="8"/>
<circle cx="1711.8" cy="565.0" r="8"/>
<circle cx="1715.5" cy="543.0" r="8"/>
<circle cx="1593.8" cy="530.0" r="8"/>
<circle cx="1597.0" cy="536.8" r="8"/>
<circle cx="1863.2" cy="453.0" r="8"/>
</g>
<line x1="1114.3" x2="1983.0" y1="514.4" y2="514.4" stroke="#ff0000" stroke-width="3.92" stroke-dasharray="14.43 6.2" stroke-dashoffset="11.25" clip-path="url(#cr)"/>
<rect x="1114.3" y="15.0" width="868.7" height="564.1" fill="none" stroke="#000" stroke-width="2.15"/>
<line x1="1114.3" x2="1114.3" y1="579.1" y2="588.6" stroke="#000" stroke-width="2.15"/>
<text transform="translate(1114.3,617.0) scale(1,1.06)" text-anchor="middle" class="tk">0.5</text>
<line x1="1288.0" x2="1288.0" y1="579.1" y2="588.6" stroke="#000" stroke-width="2.15"/>
<text transform="translate(1288.0,617.0) scale(1,1.06)" text-anchor="middle" class="tk">0.6</text>
<line x1="1461.7" x2="1461.7" y1="579.1" y2="588.6" stroke="#000" stroke-width="2.15"/>
<text transform="translate(1461.7,617.0) scale(1,1.06)" text-anchor="middle" class="tk">0.7</text>
<line x1="1635.4" x2="1635.4" y1="579.1" y2="588.6" stroke="#000" stroke-width="2.15"/>
<text transform="translate(1635.4,617.0) scale(1,1.06)" text-anchor="middle" class="tk">0.8</text>
<line x1="1809.1" x2="1809.1" y1="579.1" y2="588.6" stroke="#000" stroke-width="2.15"/>
<text transform="translate(1809.1,617.0) scale(1,1.06)" text-anchor="middle" class="tk">0.9</text>
<line x1="1982.8" x2="1982.8" y1="579.1" y2="588.6" stroke="#000" stroke-width="2.15"/>
<text transform="translate(1982.8,617.0) scale(1,1.06)" text-anchor="middle" class="tk">1.0</text>
<line x1="1104.8" x2="1114.3" y1="565.5" y2="565.5" stroke="#000" stroke-width="2.15"/>
<text transform="translate(1095.3,575.5) scale(1,1.06)" text-anchor="end" class="tk">0.0</text>
<line x1="1104.8" x2="1114.3" y1="496.7" y2="496.7" stroke="#000" stroke-width="2.15"/>
<text transform="translate(1095.3,506.7) scale(1,1.06)" text-anchor="end" class="tk">0.1</text>
<line x1="1104.8" x2="1114.3" y1="427.9" y2="427.9" stroke="#000" stroke-width="2.15"/>
<text transform="translate(1095.3,437.9) scale(1,1.06)" text-anchor="end" class="tk">0.2</text>
<line x1="1104.8" x2="1114.3" y1="359.1" y2="359.1" stroke="#000" stroke-width="2.15"/>
<text transform="translate(1095.3,369.1) scale(1,1.06)" text-anchor="end" class="tk">0.3</text>
<line x1="1104.8" x2="1114.3" y1="290.3" y2="290.3" stroke="#000" stroke-width="2.15"/>
<text transform="translate(1095.3,300.3) scale(1,1.06)" text-anchor="end" class="tk">0.4</text>
<line x1="1104.8" x2="1114.3" y1="221.4" y2="221.4" stroke="#000" stroke-width="2.15"/>
<text transform="translate(1095.3,231.4) scale(1,1.06)" text-anchor="end" class="tk">0.5</text>
<line x1="1104.8" x2="1114.3" y1="152.6" y2="152.6" stroke="#000" stroke-width="2.15"/>
<text transform="translate(1095.3,162.6) scale(1,1.06)" text-anchor="end" class="tk">0.6</text>
<line x1="1104.8" x2="1114.3" y1="83.8" y2="83.8" stroke="#000" stroke-width="2.15"/>
<text transform="translate(1095.3,93.8) scale(1,1.06)" text-anchor="end" class="tk">0.7</text>
<line x1="1104.8" x2="1114.3" y1="15.0" y2="15.0" stroke="#000" stroke-width="2.15"/>
<text transform="translate(1095.3,25.0) scale(1,1.06)" text-anchor="end" class="tk">0.8</text>
<text x="1548.7" y="651.1" text-anchor="middle" class="lb">Synthesizability</text>
<text transform="translate(1040.3,298.1) rotate(-90)" text-anchor="middle" class="lb"><tspan font-style="italic">E</tspan><tspan font-style="italic" font-size="19" letter-spacing="0.7" dy="4.5">hull</tspan><tspan dy="-4.5" letter-spacing="0.2"> (eV/atom)</tspan></text>
<text x="279.2" y="718.6" textLength="46.6" lengthAdjust="spacing" class="cap">(a)</text>
<text x="341.7" y="718.6" textLength="81.6" lengthAdjust="spacing" class="cap">Gzyl</text>
<text x="435.4" y="718.6" textLength="32.4" lengthAdjust="spacing" class="cap">et</text>
<text x="481.7" y="718.6" textLength="31.6" lengthAdjust="spacing" class="cap">al</text>
<text x="528.0" y="718.6" textLength="190.3" lengthAdjust="spacing" class="cap">predictions</text>
<text x="1267.2" y="718.6" textLength="49.3" lengthAdjust="spacing" class="cap">(b)</text>
<text x="1332.7" y="718.6" textLength="130.1" lengthAdjust="spacing" class="cap">Legrain</text>
<text x="1477.1" y="718.6" textLength="31.3" lengthAdjust="spacing" class="cap">et</text>
<text x="1523.4" y="718.6" textLength="29.4" lengthAdjust="spacing" class="cap">al</text>
<text x="1569.8" y="718.6" textLength="189.7" lengthAdjust="spacing" class="cap">predictions</text>
</svg>
</body></html>
